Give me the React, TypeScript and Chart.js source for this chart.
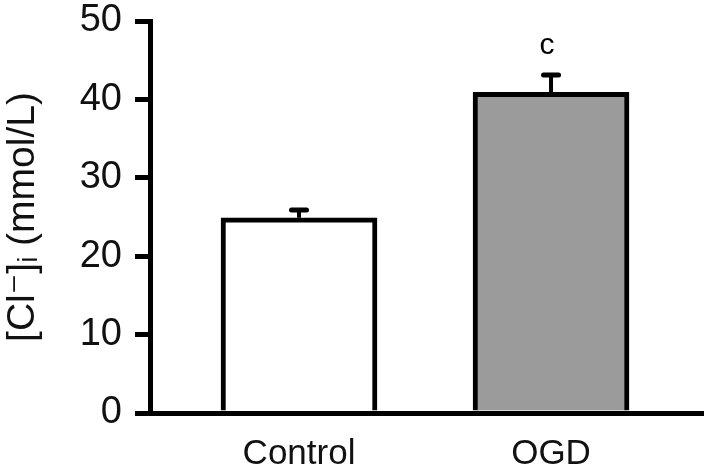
import React, { useEffect, useRef } from "react";
import { Chart, registerables } from "chart.js";

Chart.register(...registerables);

const categories = ["Control", "OGD"];
const means = [24.9, 40.9];
const errUpper = [1.0, 2.2];
const sigLabels = ["", "c"];
const barColors = ["#ffffff", "#9b9b9b"];
const yTicks = [0, 10, 20, 30, 40, 50];
const yTitle = "[Cl\u207B]\u1D62 (mmol/L)";

const FONT = '"Liberation Sans", Arial, "DejaVu Sans", sans-serif';

const errorBarPlugin = {
  id: "errorBars",
  afterDatasetsDraw(chart: any) {
    const { ctx } = chart;
    const x = chart.scales.x;
    const y = chart.scales.y;
    ctx.save();
    means.forEach((m, i) => {
      const px = x.getPixelForValue(i + 1);
      const base = y.getPixelForValue(m);
      const top = y.getPixelForValue(m + errUpper[i]);
      ctx.strokeStyle = "#000";
      ctx.lineCap = "butt";
      ctx.lineWidth = 4;
      ctx.beginPath();
      ctx.moveTo(px, base);
      ctx.lineTo(px, top);
      ctx.stroke();
      ctx.lineCap = "round";
      ctx.lineWidth = 5;
      ctx.beginPath();
      ctx.moveTo(px - 7.5, top);
      ctx.lineTo(px + 7.5, top);
      ctx.stroke();
      if (sigLabels[i]) {
        ctx.fillStyle = "#000";
        ctx.font = `30px ${FONT}`;
        ctx.textAlign = "center";
        ctx.textBaseline = "alphabetic";
        ctx.fillText(sigLabels[i], px - 4, top - 21);
      }
    });
    ctx.restore();
  },
};

export default function App() {
  const ref = useRef<HTMLCanvasElement | null>(null);

  useEffect(() => {
    if (!ref.current) return;
    const chart = new Chart(ref.current, {
      type: "bar",
      data: {
        datasets: [
          {
            data: means.map((m, i) => ({ x: i + 1, y: m })),
            backgroundColor: barColors,
            borderColor: "#000",
            borderWidth: 5,
            barThickness: 156,
          },
        ],
      },
      options: {
        animation: false,
        responsive: false,
        devicePixelRatio: 1,
        layout: { padding: { top: 21, right: 6, left: 0, bottom: 0 } },
        plugins: { legend: { display: false }, tooltip: { enabled: false } },
        scales: {
          x: {
            type: "linear",
            offset: false,
            bounds: "data",
            grace: 0,
            min: 0.4087,
            max: 2.603,
            z: 1,
            afterBuildTicks: (s: any) => {
              s.ticks = categories.map((_, i) => ({ value: i + 1 }));
            },
            afterFit: (s: any) => {
              s.height = 63;
              s.paddingLeft = 0;
              s.paddingRight = 0;
            },
            ticks: {
              callback: (v: any) => categories[Math.round(v) - 1] ?? "",
              font: { family: FONT, size: 35 },
              color: "#111",
              padding: 20,
              maxRotation: 0,
              autoSkip: false,
            },
            grid: { display: true, offset: false, drawOnChartArea: false, drawTicks: false },
            border: { display: true, width: 5, color: "#000" },
          },
          y: {
            min: 0,
            max: 50,
            afterBuildTicks: (s: any) => {
              s.ticks = yTicks.map((v) => ({ value: v }));
            },
            afterFit: (s: any) => {
              s.width = 150;
              s.paddingTop = 0;
              s.paddingBottom = 0;
            },
            ticks: {
              font: { family: FONT, size: 38, lineHeight: 1 },
              color: "#111",
              padding: 13,
            },
            grid: {
              drawOnChartArea: false,
              drawTicks: true,
              tickLength: 15,
              tickWidth: 5,
              tickColor: "#000",
              lineWidth: 5,
              color: "#000",
            },
            border: { display: true, width: 5, color: "#000" },
            title: {
              display: true,
              text: yTitle,
              font: { family: FONT, size: 39 },
              color: "#111",
              padding: { top: 0, bottom: 0 },
            },
          },
        },
      },
      plugins: [errorBarPlugin],
    } as any);
    return () => chart.destroy();
  }, []);

  return (
    <div style={{ position: "fixed", left: 0, top: 0, width: 709, height: 476, background: "#fff" }}>
      <canvas ref={ref} width={709} height={476} style={{ width: 709, height: 476, display: "block" }} />
    </div>
  );
}
